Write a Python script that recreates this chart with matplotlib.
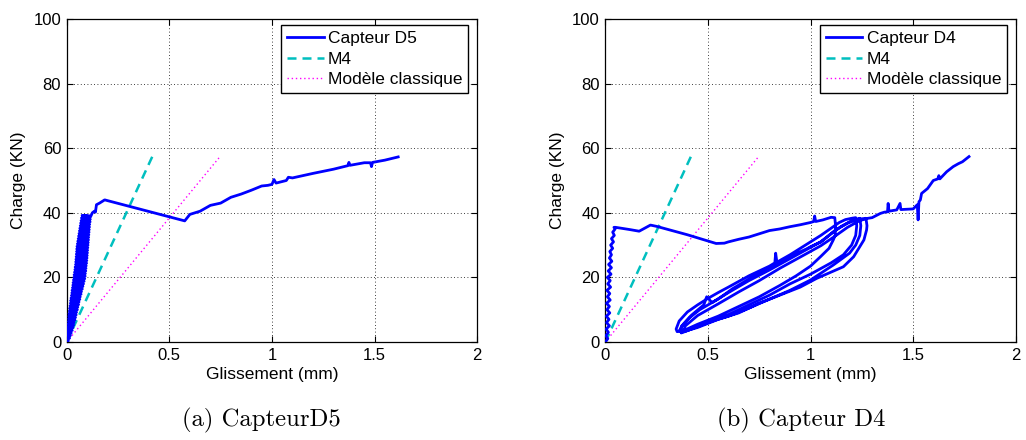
import matplotlib
matplotlib.use("Agg")
import matplotlib.pyplot as plt

# ---------------- data ----------------
# Model lines (identical on both panels)
m4_x = [0.0, 0.417]
m4_y = [0.0, 57.4]
classic_x = [0.0, 0.747]
classic_y = [0.0, 57.4]

# Capteur D5 (left panel): noisy elastic rise, peak, drop, then hardening
d5_x = [0.000, 0.008, 0.001, 0.014, 0.002, 0.018, 0.003, 0.022, 0.004, 0.027,
        0.005, 0.030, 0.006, 0.034, 0.007, 0.036, 0.008, 0.040, 0.009, 0.043,
        0.010, 0.046, 0.011, 0.048, 0.013, 0.052, 0.014, 0.054, 0.016, 0.058,
        0.018, 0.060, 0.019, 0.064, 0.021, 0.066, 0.023, 0.070, 0.025, 0.072,
        0.026, 0.076, 0.028, 0.079, 0.030, 0.082, 0.031, 0.085, 0.033, 0.088,
        0.035, 0.090, 0.036, 0.091, 0.038, 0.093, 0.040, 0.094, 0.041, 0.095,
        0.043, 0.097, 0.044, 0.098, 0.045, 0.099, 0.046, 0.100, 0.047, 0.101,
        0.048, 0.102, 0.049, 0.103, 0.050, 0.104, 0.052, 0.105, 0.054, 0.106,
        0.056, 0.107, 0.058, 0.108, 0.060, 0.109, 0.062, 0.110, 0.064, 0.111,
        0.066, 0.112, 0.068, 0.114, 0.070, 0.115, 0.072, 0.116, 0.075,
        0.100, 0.085, 0.118,
        0.125, 0.135, 0.14, 0.145, 0.16, 0.185,
        0.575, 0.6, 0.65, 0.7, 0.75, 0.8, 0.85, 0.9, 0.95, 0.98, 1.0, 1.01,
        1.02, 1.07, 1.08, 1.1, 1.15, 1.2, 1.3, 1.37, 1.375, 1.38, 1.45, 1.48,
        1.485, 1.49, 1.55, 1.615]
d5_y = [0.0, 0.4, 0.8, 1.2, 1.6, 2.0, 2.4, 2.8, 3.2, 3.6,
        4.0, 4.4, 4.8, 5.2, 5.6, 6.0, 6.4, 6.8, 7.2, 7.6,
        8.0, 8.4, 8.8, 9.2, 9.6, 10.0, 10.4, 10.8, 11.2, 11.6,
        12.0, 12.4, 12.8, 13.2, 13.6, 14.0, 14.4, 14.8, 15.2, 15.6,
        16.0, 16.4, 16.8, 17.2, 17.6, 18.0, 18.4, 18.8, 19.2, 19.6,
        20.0, 20.4, 20.8, 21.2, 21.6, 22.0, 22.4, 22.8, 23.2, 23.6,
        24.0, 24.4, 24.8, 25.2, 25.6, 26.0, 26.4, 26.8, 27.2, 27.6,
        28.0, 28.4, 28.8, 29.2, 29.6, 30.0, 30.4, 30.8, 31.2, 31.6,
        32.0, 32.4, 32.8, 33.2, 33.6, 34.0, 34.4, 34.8, 35.2, 35.6,
        36.0, 36.4, 36.8, 37.2, 37.6, 38.0, 38.4, 38.8, 39.2,
        38.0, 39.2, 39.0,
        40.0, 40.5, 40.2, 42.5, 43.0, 44.0,
        37.5, 39.5, 40.5, 42.3, 43.0, 44.8, 45.8, 47.0, 48.3, 48.5, 48.8, 50.3,
        49.2, 50.0, 51.0, 50.8, 51.5, 52.2, 53.5, 54.6, 55.6, 54.7, 55.5, 55.5,
        54.3, 55.6, 56.3, 57.3]

# Capteur D4 (right panel): rise, slip, then load/unload loops, final loading
d4_x = [0.0, 0.012, 0.003, 0.015, 0.004, 0.02, 0.006, 0.018, 0.005, 0.022,
        0.008, 0.02, 0.006, 0.024, 0.01, 0.022, 0.008, 0.026, 0.012, 0.024,
        0.01, 0.028, 0.014, 0.03, 0.016, 0.032, 0.02, 0.03, 0.022, 0.036,
        0.026, 0.04, 0.03, 0.044, 0.036, 0.048, 0.042, 0.05,
        0.08, 0.12, 0.165, 0.2, 0.22, 0.25, 0.4, 0.54, 0.58, 0.6,
        0.65, 0.7, 0.75, 0.8, 0.85, 0.9, 0.95, 1.0, 1.015, 1.02, 1.025, 1.06,
        1.1, 1.118,
        # unload 1
        1.122, 1.12, 1.11, 1.09, 1.05, 1.0, 0.93, 0.85, 0.75, 0.65, 0.55,
        0.45, 0.38, 0.35, 0.345,
        # reload 1
        0.36, 0.4, 0.45, 0.5, 0.55, 0.6, 0.7, 0.8, 0.826, 0.83, 0.836, 0.9,
        0.95, 1.0, 1.05, 1.1, 1.14, 1.17, 1.2, 1.22,
        # unload 2
        1.225, 1.22, 1.2, 1.16, 1.1, 1.0, 0.9, 0.8, 0.7, 0.6, 0.5, 0.42,
        0.37, 0.36,
        # reload 2
        0.38, 0.42, 0.48, 0.494, 0.52, 0.6, 0.7, 0.8, 0.9, 1.0, 1.05, 1.1,
        1.15, 1.2, 1.24,
        # unload 3
        1.245, 1.24, 1.22, 1.19, 1.11, 1.0, 0.9, 0.79, 0.7, 0.6, 0.46, 0.4,
        0.37,
        # reload 3
        0.37, 0.41, 0.46, 0.55, 0.62, 0.7, 0.835, 0.9, 0.98, 1.0, 1.05, 1.08,
        1.12, 1.18, 1.23, 1.27,
        # unload 4
        1.275, 1.273, 1.26, 1.21, 1.16, 1.03, 0.95, 0.85, 0.75, 0.65, 0.55,
        0.45, 0.38,
        # reload 4 and final loading
        0.39, 0.45, 0.55, 0.65, 0.75, 0.85, 0.95, 1.05, 1.12, 1.18, 1.24,
        1.28, 1.3, 1.34, 1.36, 1.375, 1.378, 1.382, 1.42, 1.436, 1.44, 1.5,
        1.52, 1.524, 1.528, 1.535, 1.541, 1.57, 1.598, 1.62, 1.625, 1.63,
        1.663, 1.695, 1.72, 1.74, 1.772]
d4_y = [0.0, 1.0, 2.0, 3.0, 4.0, 5.0, 6.0, 7.0, 8.0, 9.0,
        10.0, 11.0, 12.0, 13.0, 14.0, 15.0, 16.0, 17.0, 18.0, 19.0,
        20.0, 21.0, 22.0, 23.0, 24.0, 25.0, 26.0, 27.0, 28.0, 29.0,
        30.0, 31.0, 32.0, 33.0, 34.0, 35.0, 35.5, 35.5,
        35.2, 34.8, 34.3, 35.5, 36.2, 35.8, 33.2, 30.5, 30.6, 31.0,
        31.8, 32.5, 33.5, 34.5, 35.0, 35.7, 36.3, 37.0, 37.3, 39.0, 37.3, 37.8,
        38.6, 38.5,
        # unload 1
        36.0, 33.0, 31.5, 29.0, 26.5, 23.5, 20.5, 17.5, 14.0, 11.0, 8.0,
        5.5, 3.5, 3.2, 4.0,
        # reload 1
        6.5, 9.3, 11.5, 13.5, 15.3, 17.0, 20.5, 23.5, 24.5, 27.5, 24.7, 27.0,
        29.0, 31.0, 33.0, 35.2, 37.0, 37.9, 38.3, 38.5,
        # unload 2
        36.0, 33.0, 30.0, 27.0, 24.5, 21.0, 18.0, 14.5, 11.5, 8.5, 6.0, 4.0,
        3.0, 3.5,
        # reload 2
        5.5, 8.3, 11.5, 14.0, 12.2, 15.3, 19.0, 22.3, 25.8, 29.3, 31.0, 33.5,
        35.8, 37.5, 38.3,
        # unload 3
        36.0, 33.0, 30.0, 27.5, 23.8, 19.2, 16.0, 13.0, 10.5, 8.0, 5.3, 3.5,
        2.8,
        # reload 3
        4.8, 7.5, 10.0, 13.3, 16.5, 19.5, 24.3, 26.5, 28.8, 29.5, 31.0, 32.5,
        34.6, 36.8, 38.0, 38.3,
        # unload 4
        36.0, 34.7, 31.6, 26.4, 23.3, 19.7, 17.0, 14.5, 12.0, 9.0, 7.0,
        4.5, 3.2,
        # reload 4 and final loading
        5.0, 8.2, 11.8, 15.5, 19.0, 22.8, 26.3, 29.8, 32.8, 35.5, 37.6,
        38.3, 38.5, 39.8, 40.2, 40.3, 42.9, 40.5, 40.9, 42.9, 41.0, 41.2,
        42.5, 37.8, 43.4, 44.0, 46.0, 47.5, 50.0, 50.5, 51.5, 50.5,
        52.7, 54.3, 55.2, 55.8, 57.4]

panels = [
    ("Capteur D5", d5_x, d5_y, "(a) CapteurD5"),
    ("Capteur D4", d4_x, d4_y, "(b) Capteur D4"),
]
xticks = [0, 0.5, 1, 1.5, 2]
xticklabels = ["0", "0.5", "1", "1.5", "2"]
yticks = [0, 20, 40, 60, 80, 100]

# ---------------- figure ----------------
plt.rcParams["font.family"] = ["Liberation Sans", "DejaVu Sans"]
fig = plt.figure(figsize=(10.26, 4.40), dpi=100)

lefts = [66.7 / 1026, 605.3 / 1026]
caption_x = [261 / 1026, 801 / 1026]
width = 410.5 / 1026
bottom = (440 - 342) / 440
height = 323 / 440

for (label, xs, ys, caption), left, cx in zip(panels, lefts, caption_x):
    ax = fig.add_axes([left, bottom, width, height])
    ax.plot(xs, ys, color="#0000FF", lw=2.0, label=label, zorder=3,
            solid_joinstyle="round")
    ax.plot(m4_x, m4_y, color="#00BFBF", lw=1.8, linestyle=(0, (3.6, 2.4)),
            label="M4", zorder=2)
    ax.plot(classic_x, classic_y, color="#FF00FF", lw=1.0,
            linestyle=(0, (1, 2)), label="Modèle classique", zorder=2)
    ax.set_xlim(0, 2)
    ax.set_ylim(0, 100)
    ax.set_xticks(xticks)
    ax.set_xticklabels(xticklabels)
    ax.set_yticks(yticks)
    ax.tick_params(direction="in", top=True, right=True, labelsize=12,
                   length=4, width=0.8, pad=4)
    ax.grid(True, color="black", linestyle=(0, (1, 3)), linewidth=0.6)
    for s in ax.spines.values():
        s.set_linewidth(0.9)
    ax.set_xlabel("Glissement (mm)", fontsize=12.5, labelpad=3)
    ax.set_ylabel("Charge (KN)", fontsize=12.5, labelpad=5)
    leg = ax.legend(loc="upper right", bbox_to_anchor=(0.978, 0.981),
                    borderaxespad=0, fontsize=12.5, fancybox=False,
                    framealpha=1, edgecolor="black", handlelength=2.1,
                    handletextpad=0.25, labelspacing=0.32, borderpad=0.33)
    leg.get_frame().set_linewidth(1.0)
    fig.text(cx, 1 - 420 / 440, caption, ha="center",
             va="center", fontsize=17.8, family=["cmr10", "DejaVu Serif"])

fig.savefig("out.png", dpi=100)
